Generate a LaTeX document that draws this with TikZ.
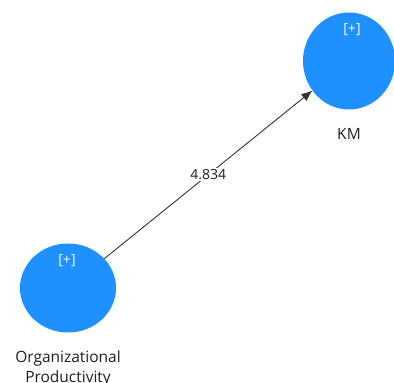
\documentclass[tikz,border=0pt]{standalone}
\usepackage{fontspec}
\setmainfont{Open Sans}
\usepackage{xcolor}
\usetikzlibrary{shapes.geometric,positioning,arrows.meta}
\definecolor{lvblue}{RGB}{30,144,255}
\definecolor{lbltext}{RGB}{30,30,30}
\begin{document}
\begin{tikzpicture}[x=1pt,y=1pt,
 lv/.style={ellipse,fill=lvblue,inner sep=0pt},
 pl/.style={text=white,font=\fontsize{14}{16}\selectfont,inner sep=0pt},
 lbl/.style={text=lbltext,font=\fontsize{15.5}{20}\selectfont,align=center,inner sep=0pt},
 ar/.style={-{Latex[length=11pt,width=9pt]},draw=black!80,line width=0.9pt}]
\useasboundingbox (0,0) rectangle (394,383);
\node[lv,minimum width=92pt,minimum height=97pt] (km) at (349,322) {};
\node[lv,minimum width=96pt,minimum height=89pt] (op) at (68,95) {};
\node[pl] (kmp) at (352,353) {[+]};
\node[pl] (opp) at (67,122) {[+]};
\node[lbl,below=19pt of km] (kml) {KM};
\node[lbl,below=18pt of op,anchor=north] (opl) {Organizational\\ Productivity};
\draw[ar] (op) -- node[midway,fill=white,inner sep=1.5pt,text=lbltext,font=\fontsize{14}{16}\selectfont]{4.834} (km);
\end{tikzpicture}
\end{document}
